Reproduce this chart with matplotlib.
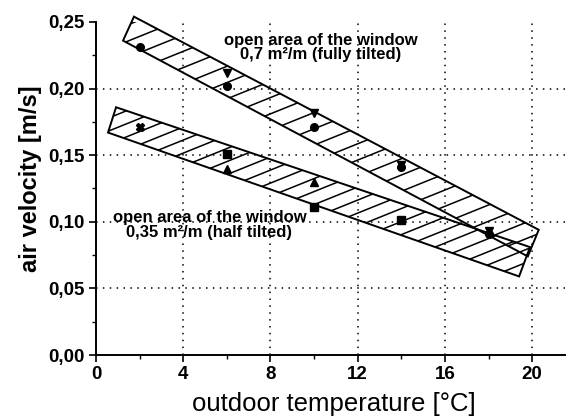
import numpy as np
import matplotlib.pyplot as plt
from matplotlib.patches import Polygon
from matplotlib.collections import LineCollection
from matplotlib.ticker import MultipleLocator

plt.rcParams['font.family'] = ['Liberation Sans', 'DejaVu Sans']

# measured points, fully tilted window (0,7 m2/m)
full_circ_x = [2, 6, 10, 14, 18]
full_circ_y = [0.231, 0.202, 0.171, 0.141, 0.091]
full_tri_x = [6, 10, 14, 18]
full_tri_y = [0.212, 0.182, 0.143, 0.093]

# measured points, half tilted window (0,35 m2/m)
half_star_x = [2]
half_star_y = [0.171]
half_sq_x = [6, 10, 14]
half_sq_y = [0.151, 0.111, 0.101]
half_tri_x = [6, 10]
half_tri_y = [0.140, 0.130]

# scatter bands (corners)
full_band_x = [1.74, 20.3, 19.8, 1.24]
full_band_y = [0.254, 0.094, 0.074, 0.236]
half_band_x = [0.92, 19.9, 19.4, 0.55]
half_band_y = [0.186, 0.081, 0.059, 0.167]

xticks = [0, 4, 8, 12, 16, 20]
yticks = [0.00, 0.05, 0.10, 0.15, 0.20, 0.25]
ytick_labels = ['0,00', '0,05', '0,10', '0,15', '0,20', '0,25']

fig = plt.figure(figsize=(5.66, 4.18), dpi=100)
ax = fig.add_axes([0.1696, 0.1507, 0.8304, 0.7967])
ax.set_xlim(0, 21.55)
ax.set_ylim(0, 0.25)


def draw_band(bx, by):
    poly = Polygon(np.column_stack([bx, by]), closed=True, fill=False,
                   edgecolor='black', lw=1.4, clip_on=False, zorder=3)
    ax.add_patch(poly)
    # shallow diagonal hatching clipped to the band
    k = 0.0066
    xl = (bx[0] + bx[3]) / 2
    xr = (bx[1] + bx[2]) / 2
    yl = (by[0] + by[3]) / 2
    yr = (by[1] + by[2]) / 2
    segs = []
    for x0 in np.arange(xl - 1, xr + 1, 0.8):
        yc = yl + (yr - yl) * (x0 - xl) / (xr - xl)
        segs.append([(x0 - 3, yc - 3 * k), (x0 + 3, yc + 3 * k)])
    lc = LineCollection(segs, colors='black', linewidths=1.1, zorder=2)
    ax.add_collection(lc)
    lc.set_clip_path(poly)


draw_band(full_band_x, full_band_y)
draw_band(half_band_x, half_band_y)

ms = 5.5
ax.plot(full_circ_x, full_circ_y, 'o', color='black', ms=ms, zorder=4, clip_on=False)
ax.plot(full_tri_x, full_tri_y, 'v', color='black', ms=ms + 0.5, zorder=4)
ax.plot(half_star_x, half_star_y, 'X', color='black', ms=ms + 0.5, zorder=4)
ax.plot(half_sq_x, half_sq_y, 's', color='black', ms=ms, zorder=4)
ax.plot(half_tri_x, half_tri_y, '^', color='black', ms=ms + 0.5, zorder=4)

ax.text(10.3, 0.231, 'open area of the window\n0,7 m²/m (fully tilted)',
        ha='center', va='center', fontsize=12, fontweight='bold',
        linespacing=0.95, zorder=5)
ax.text(5.2, 0.0975, 'open area of the window\n0,35 m²/m (half tilted)',
        ha='center', va='center', fontsize=12, fontweight='bold',
        linespacing=0.95, zorder=5)

# axes styling
ax.spines['top'].set_visible(False)
ax.spines['right'].set_visible(False)
ax.spines['left'].set_linewidth(1.4)
ax.spines['bottom'].set_linewidth(1.4)

ax.set_xticks(xticks)
ax.set_xticklabels([str(t) for t in xticks])
ax.set_yticks(yticks)
ax.set_yticklabels(ytick_labels)
ax.xaxis.set_minor_locator(MultipleLocator(2))
ax.yaxis.set_minor_locator(MultipleLocator(0.025))
ax.tick_params(which='major', direction='out', length=5, width=1.2, pad=3)
ax.tick_params(which='minor', direction='out', length=3, width=1.0)
for lab in ax.get_xticklabels() + ax.get_yticklabels():
    lab.set_fontweight('bold')
    lab.set_fontsize(13.5)

ax.grid(True, which='major', color='black', linestyle=(0, (1, 3.5)), lw=1.1)
ax.yaxis.get_gridlines()[-1].set_visible(False)
ax.yaxis.get_gridlines()[0].set_visible(False)
ax.xaxis.get_gridlines()[0].set_visible(False)

ax.set_xlabel('outdoor temperature [°C]', fontsize=18.5, va='center')
ax.xaxis.set_label_coords(0.506, -0.147)
ax.set_ylabel('air velocity [m/s]', fontsize=17, fontweight='bold', va='center')
ax.yaxis.set_label_coords(-0.14, 0.53)

fig.savefig('out.png', dpi=100)
